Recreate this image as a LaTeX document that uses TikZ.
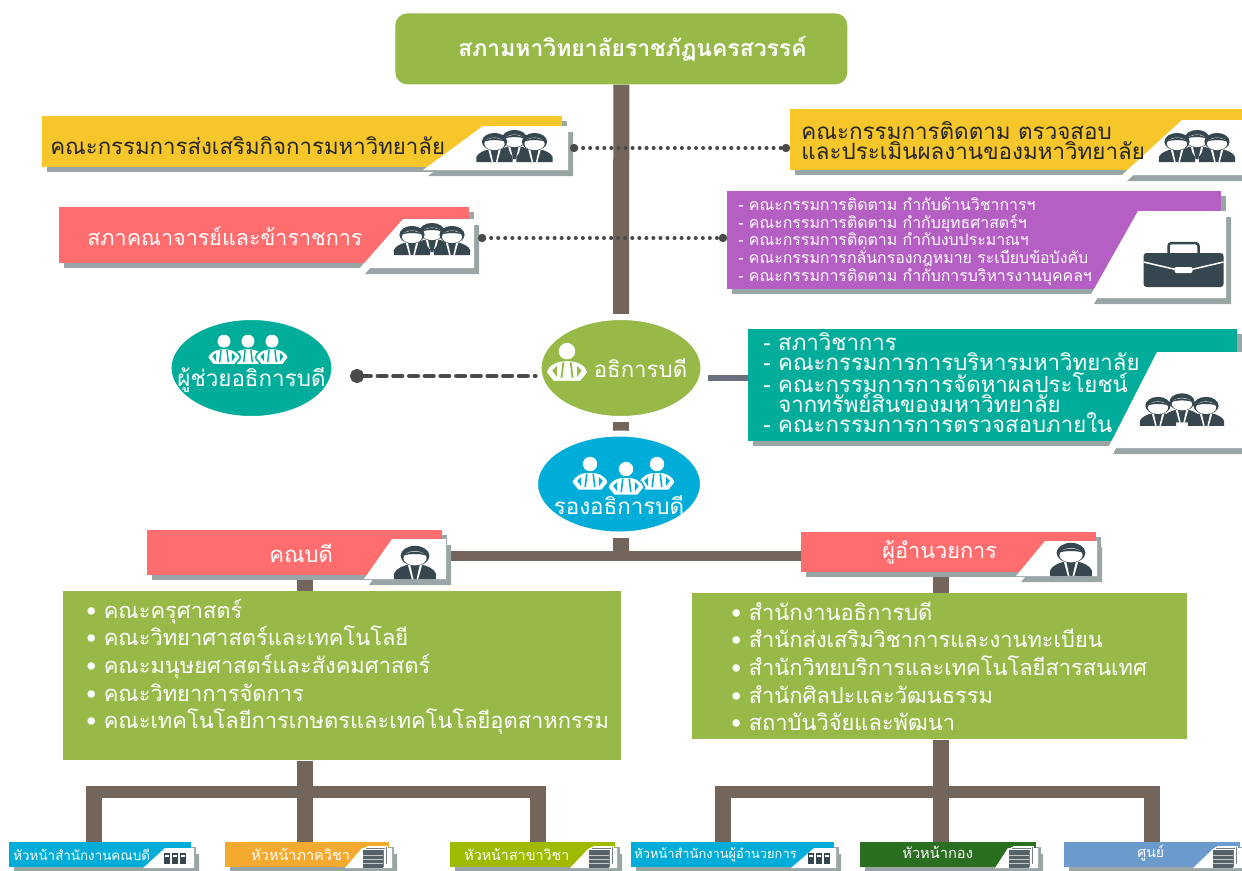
\documentclass[tikz,border=0pt]{standalone}
\usepackage{fontspec}
\setmainfont[Script=Thai]{Loma}
\usepackage{tikz}
\usetikzlibrary{shapes.geometric, positioning, backgrounds, shadows, arrows.meta}

\newlength{\px}
\setlength{\px}{0.567pt}

\definecolor{trunkbrown}{HTML}{73655A}
\definecolor{shadegrey}{HTML}{9AA6A6}
\definecolor{icondark}{HTML}{37474F}
\definecolor{dotgrey}{HTML}{4A4A4A}
\definecolor{linkslate}{HTML}{6B7080}
\definecolor{leafgreen}{HTML}{97B947}
\definecolor{sunyellow}{HTML}{F7C62B}
\definecolor{coral}{HTML}{FF6D6F}
\definecolor{plum}{HTML}{B55EC3}
\definecolor{sea}{HTML}{00AC9A}
\definecolor{sky}{HTML}{00ACD8}
\definecolor{amber}{HTML}{F4A92F}
\definecolor{lime}{HTML}{9FBA00}
\definecolor{forest}{HTML}{2A6E1F}
\definecolor{cornflower}{HTML}{6B9BCD}

\tikzset{
  banner/.style={rectangle, anchor=north west, inner sep=0pt,
    copy shadow={shadow xshift=5\px, shadow yshift=-5\px, fill=shadegrey, draw=none}},
  plainbox/.style={rectangle, anchor=north west, inner sep=0pt, fill=leafgreen},
  disc/.style={ellipse, inner sep=0pt, draw=white, line width=6\px},
  lbl/.style={inner sep=0pt, align=left, anchor=west},
  trunk/.style={draw=trunkbrown, line width=16\px},
  dotlink/.style={draw=dotgrey, line width=2.3pt, dash pattern=on 0pt off 4pt, line cap=round, {Circle[length=4.6pt]}-{Circle[length=4.6pt]}},
  dashlink/.style={draw=dotgrey, line width=2.4pt, dash pattern=on 5pt off 3.9pt, line cap=round, {Circle[length=8pt]}-},
  pics/man/.style={code={
    \fill[icondark] (-26,15) -- (-26,8) .. controls (-24,2) and (-14,-2) .. (-8,-3) -- (8,-3) .. controls (14,-2) and (24,2) .. (26,8) -- (26,15) -- cycle;
    \fill[white] (-6,-3) -- (-2,15) -- (-4,15) -- (-9,-3) -- cycle (6,-3) -- (2,15) -- (4,15) -- (9,-3) -- cycle;
    \fill[icondark] (0,-14) ellipse (18 and 12.5);
    \fill[white] (0,-11) ellipse (14.5 and 9);
    \fill[icondark] (-15,-14) .. controls (-8,-21) and (8,-21) .. (15,-14) .. controls (8,-17) and (-8,-17) .. (-15,-14);
  }},
  pics/crew/.style={code={
    \pic[scale=.7] at (0,-1.5) {man};
    \pic[scale=.7] at (-20,1.5) {man};
    \pic[scale=.7] at (20,1.5) {man};
  }},
  pics/wman/.style={code={
    \fill[white] (0,-15) circle (9);
    \fill[white, draw=#1, line width=1.5\px] (-15,18) -- (-23,8) .. controls (-20,-2) and (-10,-5) .. (0,-5) .. controls (10,-5) and (20,-2) .. (23,8) -- (15,18) -- cycle;
    \fill[#1] (-16,6) -- (-11,1) -- (-11,13) -- cycle (16,6) -- (11,1) -- (11,13) -- cycle
      (-5,-3) -- (-7,14) -- (-5,14) -- (-3,-3) -- cycle (5,-3) -- (7,14) -- (5,14) -- (3,-3) -- cycle;
  }},
  pics/briefcase/.style={code={
    \draw[icondark, line width=2.5\px, rounded corners=3\px] (-15,-12) -- (-15,-22) -- (15,-22) -- (15,-12);
    \fill[icondark, rounded corners=3\px] (-40,-12) rectangle (40,22);
    \draw[white, line width=1.5\px] (-40,-3) -- (-10,4) -- (10,4) -- (40,-3);
    \fill[white, rounded corners=2\px] (-9,2) rectangle (9,8);
  }},
  pics/binders/.style={code={
    \foreach \bx in {-8,0,8} {
      \fill[icondark] (\bx-3.3,-5.5) rectangle (\bx+3.3,5.5);
      \fill[white] (\bx-2.3,-3.5) rectangle (\bx+2.3,-2);
    }
  }},
  pics/stack/.style={code={
    \foreach \sh in {4,2.5,1} {
      \fill[icondark!70] (-12+\sh,-9-\sh) rectangle (8+\sh,9-\sh);
      \draw[white, line width=.4\px] (-12+\sh,-9-\sh) rectangle (8+\sh,9-\sh);
    }
    \fill[icondark!85] (-12,-9) rectangle (8,9);
    \foreach \sl in {-4,0,4} {\draw[white!70!icondark, line width=.7\px] (-12,\sl) -- (8,\sl);}
  }},
}

% white corner with its shadow: top left x, top y, right x, bottom y, bottom left x
\newcommand{\flap}[5]{
  \fill[shadegrey] (#1+5,#2+6) -- (#3+5,#2+6) -- (#3+5,#4+6) -- (#5+5,#4+6) -- cycle;
  \fill[white] (#1,#2) -- (#3,#2) -- (#3,#4) -- (#5,#4) -- cycle;
}

\begin{document}
\begin{tikzpicture}[x=\px, y=-\px]
\useasboundingbox (0,0) rectangle (1242,870);

\node[rectangle, anchor=north west, inner sep=0pt, fill=leafgreen, rounded corners=12\px, minimum width=452\px, minimum height=71\px] (council) at (395,13) {};
\node[lbl, text=white, font=\fontsize{13}{16}\selectfont\bfseries, right=63\px of council.west] (councilt) {สภามหาวิทยาลัยราชภัฏนครสวรรค์};

\node[banner, fill=sunyellow, minimum width=520\px, minimum height=51\px] (promote) at (42,116) {};
\flap{483}{126}{568}{170}{423}
\pic at (514.5,150) {crew};
\node[lbl, text=black!85, font=\fontsize{12.6}{16}\selectfont, right=8\px of promote.west, yshift=-4\px] (promotet) {คณะกรรมการส่งเสริมกิจการมหาวิทยาลัย};

\node[banner, fill=sunyellow, minimum width=452\px, minimum height=61\px] (audit) at (790,109) {};
\flap{1182}{120}{1242}{175}{1122}
\pic at (1197,150) {crew};
\node[lbl, text=black!85, font=\fontsize{12.7}{11.4}\selectfont, right=11\px of audit.west, yshift=-1\px] (auditt) {คณะกรรมการติดตาม ตรวจสอบ\\และประเมินผลงานของมหาวิทยาลัย};

\node[banner, fill=coral, minimum width=410\px, minimum height=56\px] (senate) at (59,207) {};
\flap{403}{219}{474}{268}{360}
\pic at (432,243) {crew};
\node[lbl, text=white, font=\fontsize{12.2}{16}\selectfont, right=28\px of senate.west, yshift=-1\px] (senatet) {สภาคณาจารย์และข้าราชการ};

\node[banner, fill=plum, minimum width=494\px, minimum height=98\px] (oversight) at (727,191) {};
\flap{1138}{211}{1226}{298}{1089}
\pic at (1183.5,265) {briefcase};
\node[lbl, text=white, font=\fontsize{9}{10}\selectfont, right=11\px of oversight.west, yshift=-1\px] (oversightt) {- คณะกรรมการติดตาม กำกับด้านวิชาการฯ\\- คณะกรรมการติดตาม กำกับยุทธศาสตร์ฯ\\- คณะกรรมการติดตาม กำกับงบประมาณฯ\\- คณะกรรมการกลั่นกรองกฎหมาย ระเบียบข้อบังคับ\\- คณะกรรมการติดตาม กำกับการบริหารงานบุคคลฯ};

\node[disc, fill=sea, minimum width=166\px, minimum height=102\px] (assist) at (251.5,368) {};
\pic[scale=.72] at (248,352) {wman={sea}};
\pic[scale=.72] at (224,352) {wman={sea}};
\pic[scale=.72] at (272,352) {wman={sea}};
\node[text=white, inner sep=0pt, font=\fontsize{12.7}{13}\selectfont, below=-1\px of assist.center] (assistt) {ผู้ช่วยอธิการบดี};

\node[disc, fill=leafgreen, minimum width=165\px, minimum height=102\px] (president) at (621,368) {};
\pic[scale=.92] at (567,365) {wman={leafgreen}};
\node[lbl, text=white, font=\fontsize{12.6}{13}\selectfont, right=58\px of president.west] (presidentt) {อธิการบดี};

\node[disc, fill=sky, minimum width=168\px, minimum height=101\px] (vice) at (619,484) {};
\pic[scale=.8] at (590,476) {wman={sky}};
\pic[scale=.8] at (657,476) {wman={sky}};
\pic[scale=.8] at (626,481) {wman={sky}};
\node[text=white, inner sep=0pt, font=\fontsize{12.7}{13}\selectfont, below=11\px of vice.center] (vicet) {รองอธิการบดี};

\node[banner, fill=sea, minimum width=489\px, minimum height=112\px] (boards) at (748,329) {};
\flap{1157}{352}{1247}{448}{1108}
\pic[scale=1.2] at (1182,413.6) {crew};
\node[lbl, text=white, font=\fontsize{12.6}{11.4}\selectfont, right=15\px of boards.west, yshift=3\px] (boardst) {- สภาวิชาการ\\- คณะกรรมการการบริหารมหาวิทยาลัย\\- คณะกรรมการการจัดหาผลประโยชน์\\\phantom{- }จากทรัพย์สินของมหาวิทยาลัย\\- คณะกรรมการการตรวจสอบภายใน};

\node[banner, fill=coral, minimum width=295\px, minimum height=45\px] (dean) at (147,530) {};
\flap{392}{539}{446}{579}{364}
\pic[scale=.8] at (415,567) {man};
\node[lbl, text=white, font=\fontsize{12.5}{13}\selectfont, right=122\px of dean.west] (deant) {คณบดี};

\node[banner, fill=coral, minimum width=295\px, minimum height=40\px] (director) at (801,532) {};
\flap{1045}{541}{1097}{576}{1016}
\pic[scale=.8] at (1071,564) {man};
\node[lbl, text=white, font=\fontsize{12.3}{13}\selectfont, right=81\px of director.west] (directort) {ผู้อำนวยการ};

\node[plainbox, minimum width=558\px, minimum height=169\px] (faculty) at (63,591) {};
\node[lbl, text=white, font=\fontsize{12.4}{15.7}\selectfont, right=23\px of faculty.west, yshift=9\px] (facultyt) {• คณะครุศาสตร์\\• คณะวิทยาศาสตร์และเทคโนโลยี\\• คณะมนุษยศาสตร์และสังคมศาสตร์\\• คณะวิทยาการจัดการ\\• คณะเทคโนโลยีการเกษตรและเทคโนโลยีอุตสาหกรรม};

\node[plainbox, minimum width=495\px, minimum height=146\px] (offices) at (692,593) {};
\node[lbl, text=white, font=\fontsize{12.4}{15.7}\selectfont, right=39\px of offices.west] (officest) {• สำนักงานอธิการบดี\\• สำนักส่งเสริมวิชาการและงานทะเบียน\\• สำนักวิทยบริการและเทคโนโลยีสารสนเทศ\\• สำนักศิลปะและวัฒนธรรม\\• สถาบันวิจัยและพัฒนา};

\node[banner, fill=sky, minimum width=182\px, minimum height=25\px] (headA) at (9,842) {};
\flap{165}{848}{194}{868}{143}
\pic at (175,858.5) {binders};
\node[lbl, text=white, font=\fontsize{7.6}{9}\selectfont, right=4\px of headA.west] (headAt) {หัวหน้าสำนักงานคณบดี};

\node[banner, fill=amber, minimum width=164\px, minimum height=25\px] (headB) at (225,842) {};
\flap{362}{848}{392}{868}{345}
\pic at (375,859) {stack};
\node[lbl, text=white, font=\fontsize{8.2}{9}\selectfont, right=26\px of headB.west] (headBt) {หัวหน้าภาควิชา};

\node[banner, fill=lime, minimum width=165\px, minimum height=25\px] (headC) at (450,842) {};
\flap{589}{848}{617}{868}{570}
\pic at (601,859) {stack};
\node[lbl, text=white, font=\fontsize{8.1}{9}\selectfont, right=14\px of headC.west] (headCt) {หัวหน้าสาขาวิชา};

\node[banner, fill=sky, minimum width=203\px, minimum height=25\px] (headD) at (631,842) {};
\flap{814}{848}{836}{868}{791}
\pic at (819,858.5) {binders};
\node[lbl, text=white, font=\fontsize{7.3}{9}\selectfont, right=3\px of headD.west] (headDt) {หัวหน้าสำนักงานผู้อำนวยการ};

\node[banner, fill=forest, minimum width=176\px, minimum height=25\px] (headE) at (860,842) {};
\flap{1008}{848}{1038}{868}{995}
\pic at (1021,859) {stack};
\node[lbl, text=white, font=\fontsize{8.3}{9}\selectfont, right=42\px of headE.west, yshift=2\px] (headEt) {หัวหน้ากอง};

\node[banner, fill=cornflower, minimum width=176\px, minimum height=25\px] (headF) at (1064,842) {};
\flap{1214}{848}{1242}{868}{1193}
\pic at (1225,859) {stack};
\node[lbl, text=white, font=\fontsize{8}{9}\selectfont, right=73\px of headF.west, yshift=2\px] (headFt) {ศูนย์};

\coordinate (hub) at (621,555.5);
\coordinate (facleg) at (305,792);
\coordinate (offleg) at (941,792);
\coordinate (promotelink) at (570,148);
\coordinate (senatelink) at (478,238);
\coordinate (assistlink) at (350,376);
\coordinate (boardlink) at (708,378);
\coordinate (legA) at (94,842);
\coordinate (legC) at (538,842);
\coordinate (legD) at (723,842);
\coordinate (legF) at (1152,842);

\begin{scope}[on background layer]
\draw[trunk] (council.south) -- (president.north);
\draw[trunk] (president.south) -- (president.south |- vice.north);
\draw[trunk] (vice.south -| hub) -- (hub);
\draw[trunk, line width=10\px] (dean.east |- hub) -- (director.west |- hub);
\draw[trunk] (dean.south -| facleg) -- (faculty.north -| facleg);
\draw[trunk] (faculty.south -| facleg) -- (headB.north -| facleg);
\draw[trunk] (director.south -| offleg) -- (offices.north -| offleg);
\draw[trunk] (offices.south -| offleg) -- (headE.north -| offleg);
\draw[trunk, line width=12\px] (facleg -| legA) -- (facleg -| legC);
\draw[trunk, line width=12\px] (offleg -| legD) -- (offleg -| legF);
\draw[trunk] ([yshift=6\px]facleg -| legA) -- (legA);
\draw[trunk] ([yshift=6\px]facleg -| legC) -- (legC);
\draw[trunk] ([yshift=6\px]offleg -| legD) -- (legD);
\draw[trunk] ([yshift=6\px]offleg -| legF) -- (legF);
\draw[draw=linkslate, line width=6\px] (boardlink) -- (boardlink -| boards.west);
\end{scope}

\draw[dotlink] (promotelink) -- (promotelink -| audit.west);
\draw[dotlink] (senatelink) -- (senatelink -| oversight.west);
\draw[dashlink] (assistlink) -- (assistlink -| president.west);

\end{tikzpicture}
\end{document}
